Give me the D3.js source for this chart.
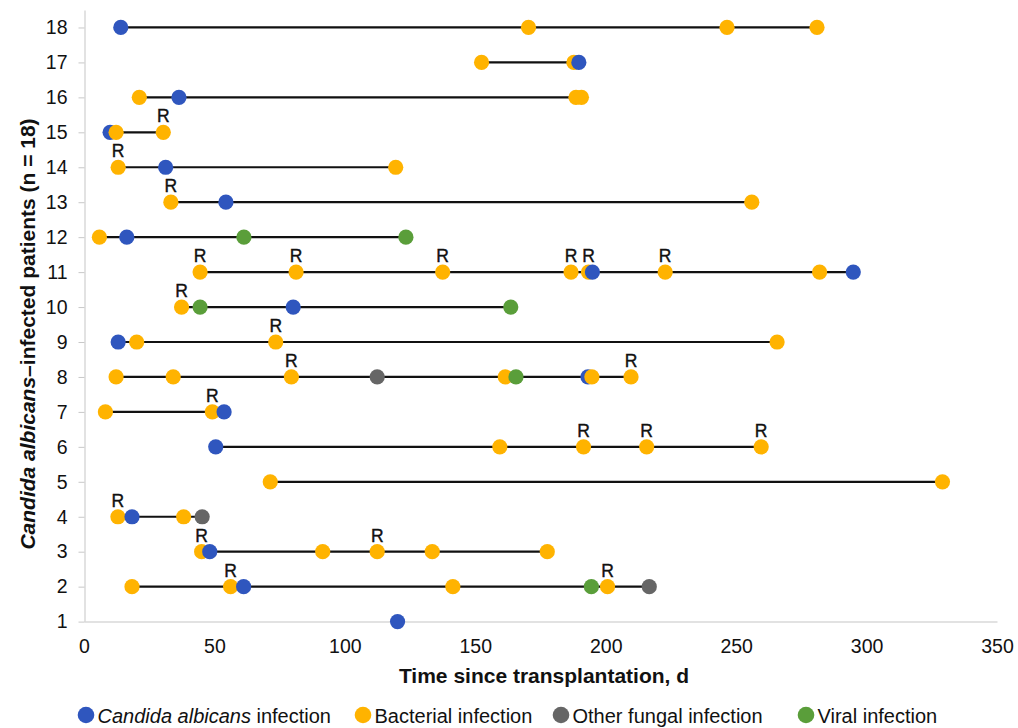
<!DOCTYPE html>
<html>
<head>
<meta charset="utf-8">
<script src="https://cdn.jsdelivr.net/npm/d3@7"></script>
<style>
  body { margin: 0; background: #fff; }
  svg { font-family: "Liberation Sans", Arial, sans-serif; }
</style>
</head>
<body>
<div id="chart"></div>
<script>
// Patient rows (1..18) and event days
var patients = d3.range(1, 19);
var xTicks = [0, 50, 100, 150, 200, 250, 300, 350];

// [patient, day]
var candidaEvents = [
  [18, 14.1], [17, 189.7], [16, 36.4], [15, 10], [14, 31.3], [13, 54.4],
  [12, 16.4], [11, 194.9], [11, 294.9], [10, 80.2], [9, 13.1], [8, 193.2],
  [7, 53.7], [6, 50.5], [4, 18.4], [3, 48.2], [2, 61.2], [1, 120.2]
];

// [patient, day, resistant]
var bacterialEvents = [
  [18, 170.4, 0], [18, 246.5, 0], [18, 281, 0],
  [17, 152.4, 0], [17, 187.8, 0],
  [16, 21.2, 0], [16, 188.6, 0], [16, 190.7, 0],
  [15, 12.3, 0], [15, 30.4, 1],
  [14, 13.1, 1], [14, 119.5, 0],
  [13, 33.3, 1], [13, 256, 0],
  [12, 5.9, 0],
  [11, 44.5, 1], [11, 81.3, 1], [11, 137.5, 1], [11, 186.7, 1], [11, 193.4, 1], [11, 222.8, 1], [11, 282, 0],
  [10, 37.4, 1],
  [9, 20.2, 0], [9, 73.5, 1], [9, 265.7, 0],
  [8, 12.3, 0], [8, 34.2, 0], [8, 79.5, 1], [8, 161.5, 0], [8, 194.7, 0], [8, 209.7, 1],
  [7, 8.2, 0], [7, 49.2, 1],
  [6, 159.4, 0], [6, 191.5, 1], [6, 215.7, 1], [6, 259.6, 1],
  [5, 71.4, 0], [5, 329.1, 0],
  [4, 13, 1], [4, 38.2, 0],
  [3, 45.1, 1], [3, 91.5, 0], [3, 112.4, 1], [3, 133.5, 0], [3, 177.6, 0],
  [2, 18.4, 0], [2, 56.2, 1], [2, 141.4, 0], [2, 200.7, 1]
];

var otherFungalEvents = [[8, 112.4], [4, 45.3], [2, 216.7]];

var viralEvents = [[12, 61.3], [12, 123.4], [10, 44.5], [10, 163.6], [8, 165.6], [2, 194.5]];

var colors = {
  candida: "#2F56BE",
  bacterial: "#FFB300",
  fungal: "#666666",
  viral: "#5A9E3A"
};

var svgWidth = 1018;
var svgHeight = 728;

var svg = d3.select("#chart")
  .append("svg")
  .attr("width", svgWidth)
  .attr("height", svgHeight);

var xScale = d3.scaleLinear().domain([0, 350]).range([84, 997]);
var yScale = d3.scaleLinear().domain([1, 18.5]).range([621.6, 10]);

// combine all events, drawn left to right so later ones overlap earlier ones
var events = [];
candidaEvents.forEach(d => events.push({ p: d[0], day: d[1], type: "candida", r: 0 }));
bacterialEvents.forEach(d => events.push({ p: d[0], day: d[1], type: "bacterial", r: d[2] }));
otherFungalEvents.forEach(d => events.push({ p: d[0], day: d[1], type: "fungal", r: 0 }));
viralEvents.forEach(d => events.push({ p: d[0], day: d[1], type: "viral", r: 0 }));
events.sort((a, b) => a.day - b.day);

// axes
var xAxis = svg.append("g")
  .attr("transform", "translate(0," + yScale(1) + ")")
  .call(d3.axisBottom(xScale).tickValues(xTicks).tickSize(0).tickPadding(18));
xAxis.select(".domain").attr("stroke", "#d9d9d9").attr("stroke-width", 1.5);
xAxis.selectAll("text").attr("font-size", 19.5).attr("fill", "#111");

var yAxis = svg.append("g")
  .attr("transform", "translate(84.5,0)")
  .call(d3.axisLeft(yScale).tickValues(patients).tickFormat(d3.format("d")).tickSize(6).tickSizeOuter(0).tickPadding(11));
yAxis.select(".domain").attr("stroke", "#d9d9d9").attr("stroke-width", 1.5);
yAxis.selectAll(".tick line").attr("stroke", "#c8c8c8");
yAxis.selectAll("text").attr("font-size", 19.5).attr("fill", "#111");

// patient lines
var spans = d3.rollups(events, v => d3.extent(v, d => d.day), d => d.p);
svg.append("g").selectAll("line")
  .data(spans)
  .enter()
  .append("line")
  .attr("x1", d => xScale(d[1][0]))
  .attr("x2", d => xScale(d[1][1]))
  .attr("y1", d => yScale(d[0]))
  .attr("y2", d => yScale(d[0]))
  .attr("stroke", "#111")
  .attr("stroke-width", 2.2);

// events
svg.append("g").selectAll("circle")
  .data(events)
  .enter()
  .append("circle")
  .attr("cx", d => xScale(d.day))
  .attr("cy", d => yScale(d.p))
  .attr("r", 7.6)
  .attr("fill", d => colors[d.type]);

// resistance markers
svg.append("g").selectAll("text")
  .data(events.filter(d => d.r))
  .enter()
  .append("text")
  .attr("x", d => xScale(d.day))
  .attr("y", d => yScale(d.p) - 10)
  .attr("text-anchor", "middle")
  .attr("font-size", 17.5)
  .attr("fill", "#111")
  .attr("stroke", "#111")
  .attr("stroke-width", 0.4)
  .text("R");

// axis titles
svg.append("text")
  .attr("x", 544)
  .attr("y", 683)
  .attr("text-anchor", "middle")
  .attr("font-size", 21)
  .attr("font-weight", "bold")
  .attr("fill", "#111")
  .text("Time since transplantation, d");

var yTitle = svg.append("text")
  .attr("transform", "translate(35,334) rotate(-90)")
  .attr("text-anchor", "middle")
  .attr("font-size", 21)
  .attr("font-weight", "bold")
  .attr("fill", "#111");
yTitle.append("tspan").attr("font-style", "italic").text("Candida albicans");
yTitle.append("tspan").text("\u2013infected patients (n = 18)");

// legend
var legendItems = [
  { type: "candida", italic: "Candida albicans", rest: " infection" },
  { type: "bacterial", italic: "", rest: "Bacterial infection" },
  { type: "fungal", italic: "", rest: "Other fungal infection" },
  { type: "viral", italic: "", rest: "Viral infection" }
];
var legendX = [86, 363, 561, 806];

var legend = svg.append("g").selectAll("g")
  .data(legendItems)
  .enter()
  .append("g")
  .attr("transform", (d, i) => "translate(" + legendX[i] + ",715)");

legend.append("circle")
  .attr("r", 8.3)
  .attr("fill", d => colors[d.type]);

var legendText = legend.append("text")
  .attr("x", 11.5)
  .attr("y", 8)
  .attr("font-size", 20)
  .attr("fill", "#111");
legendText.append("tspan").attr("font-style", "italic").text(d => d.italic);
legendText.append("tspan").text(d => d.rest);
</script>
</body>
</html>
